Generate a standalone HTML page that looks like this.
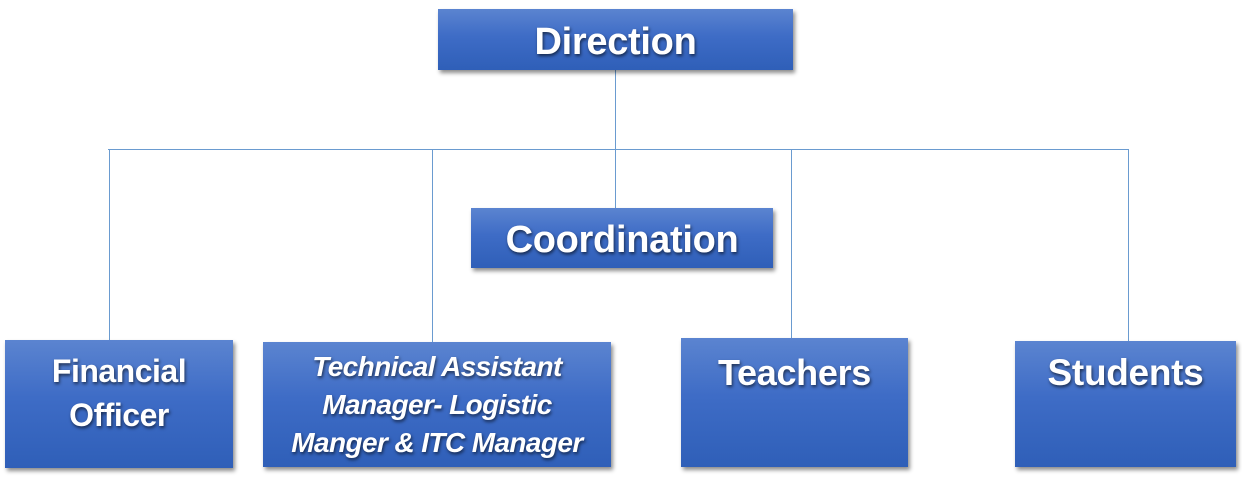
<!DOCTYPE html>
<html><head><style>
body{margin:0;width:1242px;height:490px;background:#fff;position:relative;overflow:hidden;font-family:"Liberation Sans",sans-serif}
.b{position:absolute;background:linear-gradient(#5b84d0,#3e6cc6 45%,#2f5fb8);box-shadow:2px 3px 4px rgba(0,0,0,.45);color:#fff;font-weight:bold;text-align:center;text-shadow:1px 2px 3px rgba(0,0,0,.6);display:flex;justify-content:center;box-sizing:border-box;white-space:nowrap}
.l{position:absolute;background:#6a9bd0}
</style></head><body>
<div class="l" style="left:615px;top:70px;width:1px;height:138px"></div>
<div class="l" style="left:108px;top:149px;width:1021px;height:1px"></div>
<div class="l" style="left:109px;top:149px;width:1px;height:191px"></div>
<div class="l" style="left:432px;top:149px;width:1px;height:193px"></div>
<div class="l" style="left:791px;top:149px;width:1px;height:189px"></div>
<div class="l" style="left:1128px;top:149px;width:1px;height:192px"></div>

<div class="b" style="left:438px;top:9px;width:355px;height:61px;font-size:38px;align-items:center;letter-spacing:-0.3px;padding-top:5px">Direction</div>
<div class="b" style="left:471px;top:208px;width:302px;height:60px;font-size:38px;align-items:center;letter-spacing:-0.3px;padding-top:5px">Coordination</div>
<div class="b" style="left:5px;top:340px;width:228px;height:128px;font-size:32px;line-height:44px;padding-top:9px;letter-spacing:-0.5px">Financial<br>Officer</div>
<div class="b" style="left:263px;top:342px;width:348px;height:125px;font-size:28px;line-height:38px;padding-top:6px;font-style:italic;letter-spacing:-0.6px">Technical Assistant<br>Manager- Logistic<br>Manger &amp; ITC Manager</div>
<div class="b" style="left:681px;top:338px;width:227px;height:129px;font-size:36px;padding-top:14px;letter-spacing:-0.3px">Teachers</div>
<div class="b" style="left:1015px;top:341px;width:221px;height:126px;font-size:37px;padding-top:11px;letter-spacing:-0.3px">Students</div>
</body></html>
